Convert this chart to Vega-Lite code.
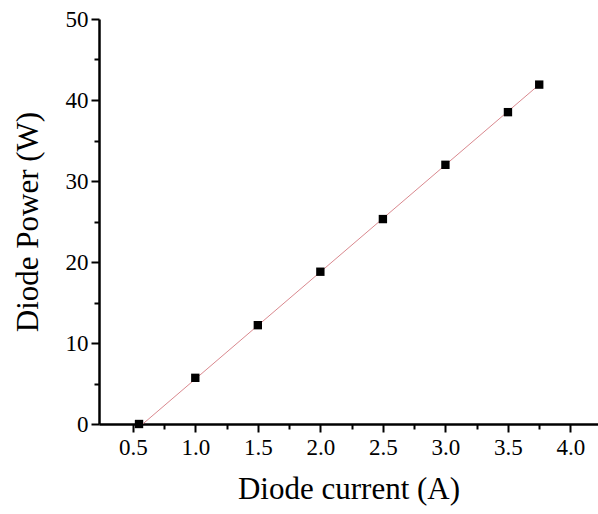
{
  "$schema": "https://vega.github.io/schema/vega-lite/v6.json",
  "autosize": "none",
  "width": 499,
  "height": 405,
  "padding": {"left": 99, "top": 19, "right": 0, "bottom": 90},
  "background": "white",
  "config": {
    "view": {"stroke": null},
    "font": "Liberation Serif",
    "axis": {"grid": false, "domainColor": "black", "tickColor": "black", "labelColor": "black", "titleColor": "black", "labelFont": "Liberation Serif", "titleFont": "Liberation Serif", "titleFontWeight": "normal", "domainWidth": 2.5, "tickWidth": 2}
  },
  "datasets": {
    "pts": [
      {"current": 0.55, "power": 0.0},
      {"current": 1.0, "power": 5.7},
      {"current": 1.5, "power": 12.2},
      {"current": 2.0, "power": 18.8},
      {"current": 2.5, "power": 25.3},
      {"current": 3.0, "power": 32.0},
      {"current": 3.5, "power": 38.5},
      {"current": 3.75, "power": 41.9}
    ],
    "fit": [
      {"current": 0.58, "power": 0.0},
      {"current": 3.75, "power": 41.9}
    ]
  },
  "layer": [
    {
      "data": {"name": "fit"},
      "mark": {"type": "line", "color": "#d9888e", "strokeWidth": 1},
      "encoding": {
        "x": {"field": "current", "type": "quantitative", "scale": {"domain": [0.23, 4.22], "nice": false, "zero": false},
          "axis": {"orient": "bottom", "values": [0.75, 1.25, 1.75, 2.25, 2.75, 3.25, 3.75], "labels": false, "domain": false, "tickSize": 5, "title": null}},
        "y": {"field": "power", "type": "quantitative", "scale": {"domain": [0, 50], "nice": false},
          "axis": {"orient": "left", "values": [5, 15, 25, 35, 45], "labels": false, "domain": false, "tickSize": 5, "title": null}}
      }
    },
    {
      "data": {"name": "pts"},
      "mark": {"type": "square", "color": "black", "filled": true, "opacity": 1, "size": 70},
      "encoding": {
        "x": {"field": "current", "type": "quantitative",
          "axis": {"orient": "bottom", "values": [0.5, 1.0, 1.5, 2.0, 2.5, 3.0, 3.5, 4.0], "format": ".1f", "tickSize": 8, "labelFontSize": 23, "labelPadding": 4, "title": "Diode current (A)", "titleFontSize": 31, "titlePadding": 15, "domainWidth": 2.5}},
        "y": {"field": "power", "type": "quantitative",
          "axis": {"orient": "left", "values": [0, 10, 20, 30, 40, 50], "tickSize": 8, "labelFontSize": 23, "labelPadding": 3, "title": "Diode Power (W)", "titleFontSize": 31, "titlePadding": 21, "domainWidth": 2.5}}
      }
    }
  ],
  "resolve": {"axis": {"x": "independent", "y": "independent"}}
}
